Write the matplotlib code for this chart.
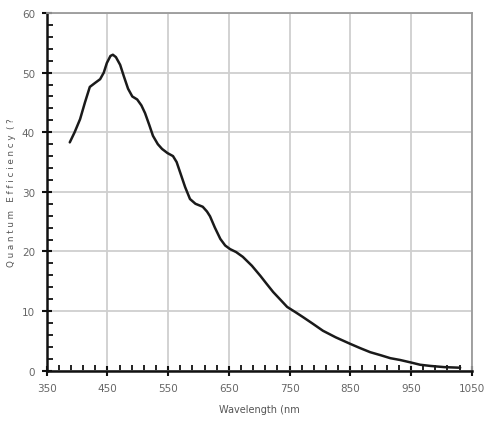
import numpy as np
import matplotlib.pyplot as plt

# QE curve
wavelength = [388, 396, 405, 413, 421, 430, 438, 444, 449, 455, 459, 464, 471, 477,
              484, 491, 499, 506, 512, 519, 525, 533, 540, 549, 558, 564, 570, 578,
              586, 595, 607, 614, 619, 627, 636, 644, 652, 662, 673, 688, 702, 712,
              723, 735, 746, 760, 772, 788, 805, 826, 850, 866, 883, 900, 916, 932,
              949, 965, 982, 1005, 1031]
qe = [38.3, 40.0, 42.2, 45.0, 47.6, 48.3, 48.9, 50.0, 51.6, 52.8, 53.0, 52.6, 51.3, 49.4,
      47.3, 46.0, 45.5, 44.5, 43.2, 41.2, 39.4, 38.0, 37.2, 36.5, 36.0, 35.0, 33.2, 30.8,
      28.8, 28.0, 27.5, 26.7, 25.9, 24.0, 22.1, 21.0, 20.4, 19.9, 19.1, 17.6, 15.9, 14.6,
      13.2, 11.9, 10.7, 9.8, 9.0, 7.9, 6.7, 5.6, 4.5, 3.8, 3.1, 2.6, 2.1, 1.8,
      1.4, 1.0, 0.8, 0.6, 0.5]

x_major = np.arange(350, 1051, 100)
x_minor = np.arange(350, 1051, 20)
y_major = np.arange(0, 61, 10)
y_minor = np.arange(0, 61, 2)

fig = plt.figure(figsize=(4.88, 4.27), dpi=100)
ax = fig.add_axes([0.0957, 0.1295, 0.8709, 0.8377])

ax.plot(wavelength, qe, color='#1a1a1a', lw=1.8, solid_capstyle='round')

ax.set_xlim(350, 1050)
ax.set_ylim(0, 60)
ax.set_xticks(x_major)
ax.set_xticks(x_minor, minor=True)
ax.set_yticks(y_major)
ax.set_yticks(y_minor, minor=True)

ax.grid(True, which='major', color='#cfcfcf', lw=1.3)
ax.set_axisbelow(True)

for side in ['top', 'right']:
    ax.spines[side].set_color('#9a9a9a')
    ax.spines[side].set_linewidth(1.3)
for side in ['left', 'bottom']:
    ax.spines[side].set_color('#111111')
    ax.spines[side].set_linewidth(1.8)

ax.tick_params(which='major', direction='inout', length=7, width=1.5, color='#111111',
               labelsize=7.5, labelcolor='#666666', pad=5)
ax.tick_params(which='minor', direction='in', length=4, width=1.3, color='#111111')

ax.set_xlabel('Wavelength (nm', fontsize=7, color='#555555', labelpad=8)
ax.set_ylabel('Q u a n t u m   E f f i c i e n c y  ( ?', fontsize=6.3, color='#555555')
ax.yaxis.set_label_coords(-0.072, 0.5)

fig.savefig('out.png', dpi=100)
